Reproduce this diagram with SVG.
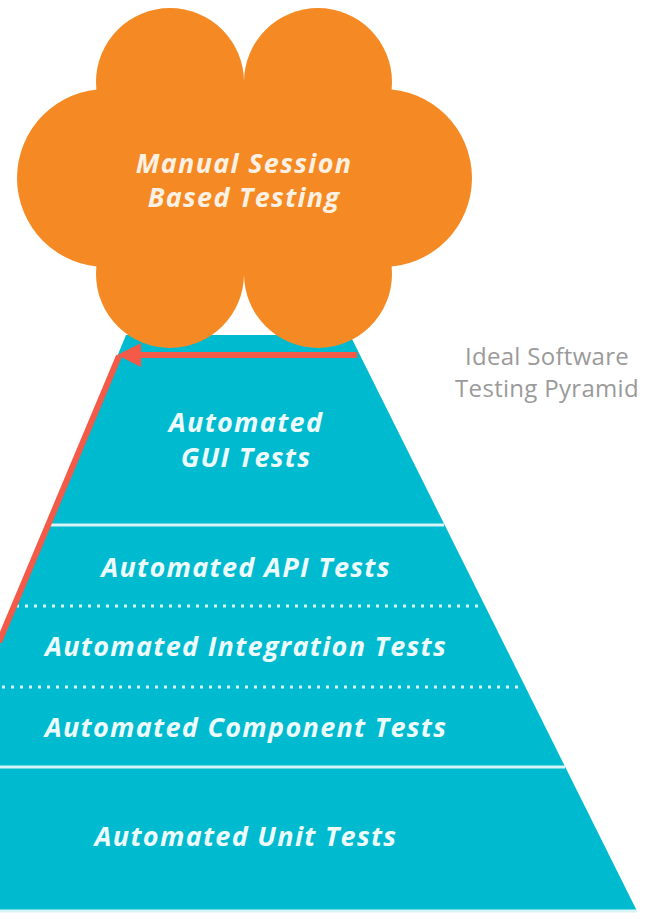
<svg xmlns="http://www.w3.org/2000/svg" width="663" height="923" viewBox="0 0 663 923">
<style>
.lbl{font-family:"Open Sans","Liberation Sans",sans-serif;font-weight:bold;font-style:italic;font-size:27px;letter-spacing:1.3px;fill:#eefbfd;text-anchor:middle}
.sep{stroke:#d9f4f7;stroke-width:3}
.dot{stroke:#d9f4f7;stroke-width:3;stroke-dasharray:3 6}
.cap{font-family:"Open Sans","Liberation Sans",sans-serif;font-size:24px;letter-spacing:0.3px;fill:#9a9a9a;text-anchor:middle}
.red{stroke:#f35a47;stroke-width:6;fill:none}
</style>
<defs>
<marker id="ah" markerWidth="4" markerHeight="4" refX="2.2" refY="2" orient="auto" markerUnits="strokeWidth">
<path d="M0,0 L4,2 L0,4 Z" fill="#f35a47"/>
</marker>
</defs>
<rect width="663" height="923" fill="#ffffff"/>
<g id="pyramid">
<polygon points="126,335 350,335 637,911 -112,911" fill="#00bbcf"/>
<line class="sep" x1="0" y1="911" x2="637" y2="911"/>
</g>
<g id="layer-gui">
<text class="lbl" x="246" y="432">Automated</text>
<text class="lbl" x="246" y="467">GUI Tests</text>
<line class="sep" x1="50" y1="525" x2="444" y2="525"/>
</g>
<g id="layer-api">
<text class="lbl" x="246" y="577">Automated API Tests</text>
<line class="dot" x1="16" y1="606" x2="484" y2="606"/>
</g>
<g id="layer-integration">
<text class="lbl" x="246" y="656">Automated Integration Tests</text>
<line class="dot" x1="2" y1="687" x2="524" y2="687"/>
</g>
<g id="layer-component">
<text class="lbl" x="246" y="737">Automated Component Tests</text>
<line class="sep" x1="0" y1="767" x2="565" y2="767"/>
</g>
<g id="layer-unit">
<text class="lbl" x="246" y="846">Automated Unit Tests</text>
</g>
<g id="cloud" fill="#f58a24">
<circle cx="170" cy="82" r="74"/>
<circle cx="318" cy="82" r="74"/>
<circle cx="106" cy="178" r="89"/>
<circle cx="383" cy="178" r="89"/>
<circle cx="170" cy="274" r="74"/>
<circle cx="318" cy="274" r="74"/>
<rect x="120" y="80" width="250" height="196"/>
<text class="lbl" x="244" y="173" style="fill:#fdf1e4">Manual Session</text>
<text class="lbl" x="244" y="207" style="fill:#fdf1e4">Based Testing</text>
</g>
<g id="caption">
<text class="cap" x="547" y="365">Ideal Software</text>
<text class="cap" x="547" y="397">Testing Pyramid</text>
</g>
<g id="connectors">
<line class="red" x1="-1" y1="642" x2="119" y2="356"/>
<line class="red" x1="357" y1="355" x2="128" y2="355" marker-end="url(#ah)"/>
</g>
</svg>
